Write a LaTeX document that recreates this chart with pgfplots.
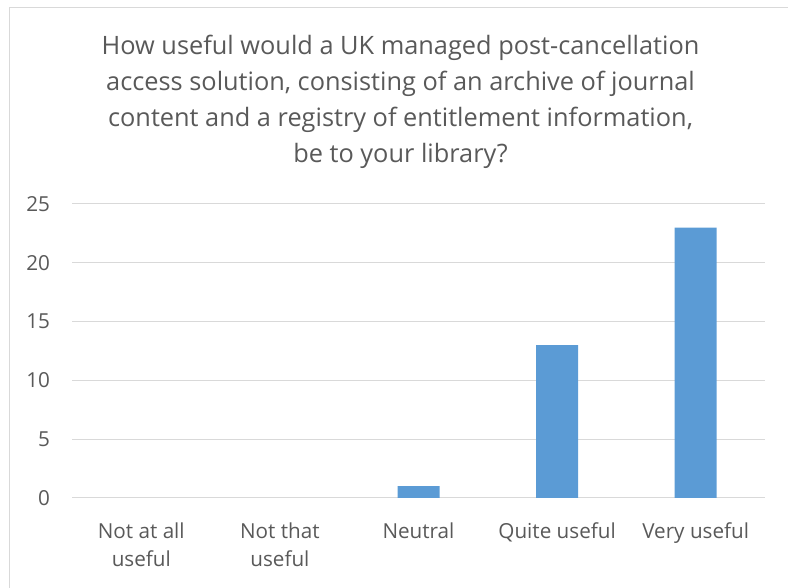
\documentclass[border=0pt]{standalone}
\usepackage{pgfplots}
\pgfplotsset{compat=1.18}
\usepackage{fontspec}
\setmainfont{Open Sans}
\definecolor{txt}{HTML}{595959}
\definecolor{gridc}{HTML}{D9D9D9}
\definecolor{barc}{HTML}{5B9BD5}
\begin{document}
\begin{tikzpicture}[x=1pt,y=1pt]
\useasboundingbox (0,0) rectangle (591,441);
\draw[gridc, line width=0.75pt] (6.75,0) -- (6.75,435) -- (591,435);
\node[align=center, text=txt, font=\fontsize{19}{27}\selectfont] at (300.4,364.5)
  {How useful would a UK managed post-cancellation\\access solution, consisting of an archive of journal\\content and a registry of entitlement information,\\be to your library?};
\begin{axis}[
  at={(54pt,67.5pt)}, anchor=south west,
  scale only axis, width=519.75pt, height=220.5pt,
  xmin=-0.5, xmax=4.5, ymin=0, ymax=25,
  ytick={0,5,10,15,20,25},
  xtick={0,1,2,3,4},
  xticklabels={{Not at all\\useful},{Not that\\useful},Neutral,{Quite useful},{Very useful}},
  xticklabel style={align=center, text=txt, font=\fontsize{15.5}{21}\selectfont, anchor=north, yshift=-15pt},
  yticklabel style={text=txt, font=\fontsize{15.5}{21}\selectfont, xshift=-13pt},
  /pgf/number format/assume math mode=true,
  axis line style={draw=none},
  axis x line*=bottom,
  x axis line style={draw=gridc, line width=0.75pt},
  major tick length=0pt,
  ymajorgrids, grid style={gridc, line width=0.75pt},
  ybar, bar width=31.5pt,
  restrict y to domain=0.5:30,
]
\addplot[fill=barc, draw=none] coordinates {(0,0) (1,0) (2,1) (3,13) (4,23)};
\end{axis}
\end{tikzpicture}
\end{document}
